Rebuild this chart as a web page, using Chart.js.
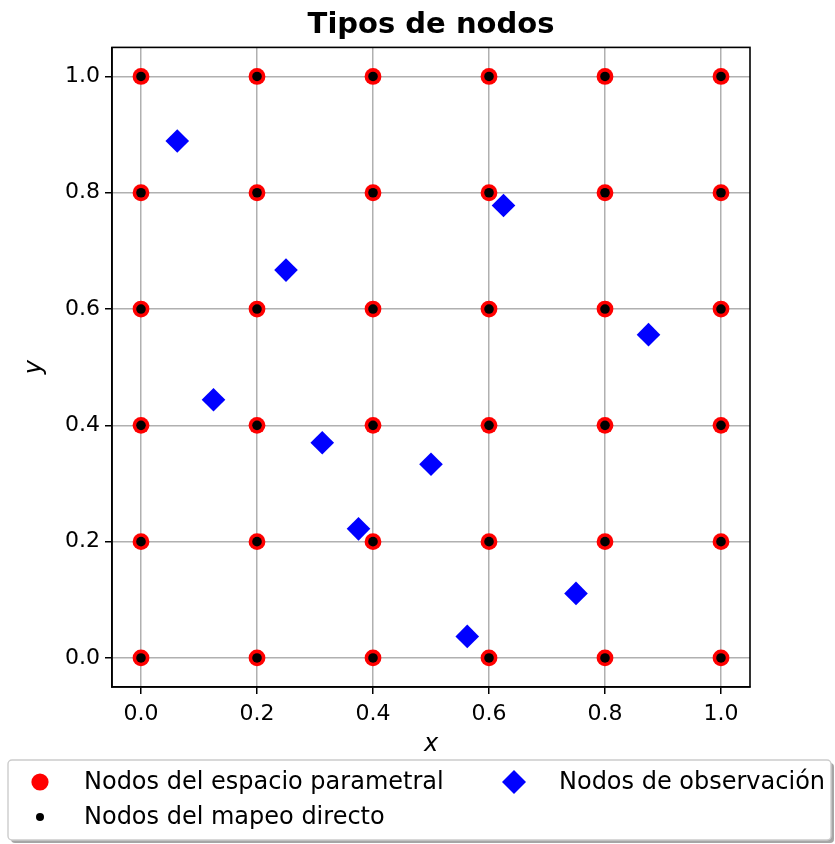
<!DOCTYPE html>
<html>
<head>
<meta charset="utf-8">
<script src="https://cdn.jsdelivr.net/npm/chart.js@4/dist/chart.umd.min.js"></script>
<style>
  html, body { margin: 0; padding: 0; background: #fff; }
  #wrap { width: 835px; height: 844px; }
</style>
</head>
<body>
<div id="wrap"><canvas id="myChart" width="835" height="844"></canvas></div>
<script>
// valores
const gridX = [0.0, 0.2, 0.4, 0.6, 0.8, 1.0]
const gridY = [0.0, 0.2, 0.4, 0.6, 0.8, 1.0]
const obsX = [0.5, 0.25, 0.75, 0.125, 0.625, 0.375, 0.875, 0.0625, 0.5625, 0.3125]
const obsY = [0.333, 0.667, 0.111, 0.444, 0.778, 0.222, 0.556, 0.889, 0.037, 0.370]
const tickValues = [0.0, 0.2, 0.4, 0.6, 0.8, 1.0]
const labels = ["Nodos del espacio parametral", "Nodos del mapeo directo", "Nodos de observación"]

const FONT = "'DejaVu Sans', sans-serif"

const nodosParam = gridX.flatMap(x => gridY.map(y => ({x, y})))
const nodosMapeo = gridX.flatMap(x => gridY.map(y => ({x, y})))
const nodosObs = obsX.map((x, i) => ({x, y: obsY[i]}))

function setTicks(scale){
  scale.ticks = tickValues.map(v => ({value: v}))
}

// marco completo y leyenda estilo matplotlib
const extras = {
  id: "extras",
  afterDatasetsDraw(chart){
    const {ctx, chartArea: a} = chart
    ctx.save()
    ctx.strokeStyle = "#000"
    ctx.lineWidth = 1.6
    ctx.strokeRect(a.left, a.top, a.right - a.left, a.bottom - a.top)
    ctx.restore()
  },
  afterDraw(chart){
    const ctx = chart.ctx
    ctx.save()
    const bx = 8, by = 760, bw = 823, bh = 80
    ctx.fillStyle = "rgba(0,0,0,0.35)"
    ctx.beginPath(); ctx.roundRect(bx + 3, by + 3, bw, bh, 4); ctx.fill()
    ctx.fillStyle = "#fff"
    ctx.strokeStyle = "#cccccc"
    ctx.lineWidth = 1.4
    ctx.beginPath(); ctx.roundRect(bx, by, bw, bh, 4); ctx.fill(); ctx.stroke()

    ctx.font = "24px " + FONT
    ctx.textBaseline = "middle"
    ctx.textAlign = "left"
    // rojo
    ctx.fillStyle = "red"
    ctx.beginPath(); ctx.arc(40, 782, 8.6, 0, Math.PI * 2); ctx.fill()
    // negro
    ctx.fillStyle = "#000"
    ctx.beginPath(); ctx.arc(40, 817, 4, 0, Math.PI * 2); ctx.fill()
    // azul
    ctx.fillStyle = "blue"
    ctx.beginPath()
    ctx.moveTo(514 - 12, 782); ctx.lineTo(514, 770); ctx.lineTo(514 + 12, 782); ctx.lineTo(514, 794)
    ctx.closePath(); ctx.fill()

    ctx.fillStyle = "#000"
    ctx.fillText(labels[0], 84, 783)
    ctx.fillText(labels[1], 84, 818)
    ctx.fillText(labels[2], 559, 783)
    ctx.restore()
  }
}

const data = {
  datasets: [
    {label: labels[0], data: nodosParam, backgroundColor: "red", borderWidth: 0,
     pointRadius: 8.4, pointStyle: "circle", order: 3},
    {label: labels[1], data: nodosMapeo, backgroundColor: "#000", borderWidth: 0,
     pointRadius: 4.8, pointStyle: "circle", order: 2},
    {label: labels[2], data: nodosObs, backgroundColor: "blue", borderWidth: 0,
     pointRadius: 11.8, pointStyle: "rectRot", order: 1}
  ]
}

const config = {
  type: "scatter",
  data,
  options: {
    responsive: false,
    animation: false,
    events: [],
    layout: {padding: {left: 0, right: 85, top: 0, bottom: 84}},
    plugins: {
      legend: {display: false},
      tooltip: {enabled: false},
      title: {
        display: true,
        text: "Tipos de nodos",
        fullSize: false,
        color: "#000",
        font: {family: FONT, size: 29, weight: "bold", lineHeight: 1.2},
        padding: {top: 7.6, bottom: 5}
      }
    },
    scales: {
      x: {
        type: "linear",
        min: -0.05, max: 1.05,
        afterBuildTicks: setTicks,
        afterFit(scale){ scale.height = 73 },
        grid: {color: "#b0b0b0", lineWidth: 1.5, tickColor: "#000", tickLength: 7, tickWidth: 1.5},
        border: {color: "#000", width: 1.6},
        ticks: {color: "#000", padding: 7, font: {family: FONT, size: 22},
                callback: v => v.toFixed(1), maxRotation: 0},
        title: {display: true, text: "x", color: "#000",
                font: {family: FONT, size: 24, style: "italic", lineHeight: 1.2},
                padding: {top: 0, bottom: 1}}
      },
      y: {
        type: "linear",
        min: -0.05, max: 1.05,
        afterBuildTicks: setTicks,
        afterFit(scale){ scale.width = 112 },
        grid: {color: "#b0b0b0", lineWidth: 1.5, tickColor: "#000", tickLength: 7, tickWidth: 1.5},
        border: {color: "#000", width: 1.6},
        ticks: {color: "#000", padding: 5, font: {family: FONT, size: 22},
                callback: v => v.toFixed(1)},
        title: {display: true, text: "y", color: "#000",
                font: {family: FONT, size: 24, style: "italic", lineHeight: 1.2},
                padding: {top: 20, bottom: 0}}
      }
    }
  },
  plugins: [extras]
}

const myChart = document.getElementById("myChart")
new Chart(myChart, config)
</script>
</body>
</html>
